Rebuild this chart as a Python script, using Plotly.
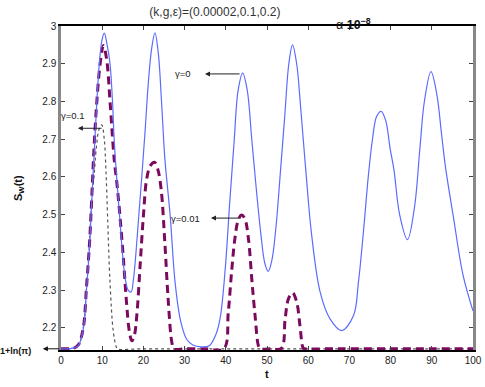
import plotly.graph_objects as go

FLOOR = 2.1447  # 1 + ln(pi)

# gamma = 0 (solid blue)
t_g0 = [0, 2, 3, 4.2, 5.4, 6.2, 6.9, 7.4, 8.1, 8.7, 9.3, 9.9, 10.5, 11.2, 11.9, 12.5, 12.9,
        13.5, 14.2, 14.9, 15.6, 16.3, 17, 17.6, 18.2, 18.9, 19.6, 20.4, 21.2, 22, 22.8, 23.6,
        24.4, 25.2, 26.5, 27.7, 29, 30.5, 32, 34, 36, 37.5, 38.6, 39.8, 41, 42, 43, 44.1, 45.2,
        46.3, 47.3, 48.5, 49.5, 50.3, 51.2, 52.2, 53.3, 54.3, 55.3, 56.2, 57.2, 58.2, 59.4,
        60.8, 62.9, 65.3, 68.1, 71, 72.2, 73.4, 74.6, 75.6, 76.6, 77.7, 78.8, 79.9, 80.8, 82.2,
        84.1, 85.8, 87.1, 88.2, 89.8, 91.2, 92.4, 93.4, 95.2, 97.6, 100]
s_g0 = [2.1447, 2.1447, 2.147, 2.153, 2.197, 2.303, 2.41, 2.524, 2.674, 2.80, 2.90, 2.96, 2.981,
        2.95, 2.90, 2.80, 2.70, 2.60, 2.50, 2.40, 2.33, 2.30, 2.295, 2.33, 2.40, 2.50, 2.60,
        2.72, 2.85, 2.94, 2.982, 2.93, 2.80, 2.65, 2.497, 2.32, 2.22, 2.17, 2.155, 2.150, 2.153,
        2.18, 2.224, 2.348, 2.54, 2.69, 2.83, 2.875, 2.83, 2.70, 2.58, 2.45, 2.37, 2.35, 2.38,
        2.47, 2.62, 2.76, 2.90, 2.950, 2.90, 2.78, 2.62, 2.45, 2.295, 2.224, 2.193, 2.233, 2.322,
        2.454, 2.603, 2.70, 2.76, 2.774, 2.75, 2.674, 2.62, 2.50, 2.434, 2.52, 2.674, 2.80,
        2.879, 2.82, 2.71, 2.62, 2.497, 2.339, 2.245]

# gamma = 0.01 (dashed purple)
t_g001 = [0, 2, 3, 4.2, 5.4, 6.2, 6.9, 7.4, 8.0, 8.7, 9.5, 10.3, 11.1, 11.9, 12.9, 13.6, 14.3,
          15.1, 15.9, 16.6, 17.2, 17.8, 18.4, 19.2, 20, 20.8, 21.7, 22.7, 23.5, 24.3, 25.2, 26,
          26.9, 27.4, 30, 35, 39.5, 40.6, 41.4, 42.2, 43, 43.8, 44.6, 45.5, 46.3, 47.1, 47.9,
          48.3, 51, 53.5, 54.4, 55.2, 56.2, 57.2, 58, 58.8, 59.2, 65, 70, 80, 90, 100]
s_g001 = [2.1447, 2.1447, 2.146, 2.155, 2.20, 2.31, 2.42, 2.53, 2.674, 2.80, 2.90, 2.948, 2.91,
          2.80, 2.648, 2.58, 2.497, 2.39, 2.268, 2.19, 2.166, 2.18, 2.233, 2.365, 2.497, 2.595,
          2.63, 2.639, 2.62, 2.568, 2.427, 2.277, 2.162, 2.1447, 2.1447, 2.1447, 2.1447, 2.241,
          2.348, 2.436, 2.485, 2.499, 2.49, 2.436, 2.33, 2.233, 2.153, 2.1447, 2.1447, 2.146,
          2.224, 2.277, 2.293, 2.269, 2.206, 2.146, 2.1447, 2.1447, 2.1447, 2.1447, 2.1447, 2.1447]

# gamma = 0.1 (dotted)
t_g01 = [0, 2, 3, 4.2, 5.4, 6.2, 6.9, 7.4, 8.0, 8.6, 9.2, 9.9, 10.5, 10.9, 11.3, 11.9, 12.7,
         13.4, 13.7, 20, 40, 60, 80, 100]
s_g01 = [2.1447, 2.1447, 2.146, 2.155, 2.20, 2.31, 2.42, 2.53, 2.60, 2.68, 2.725, 2.738, 2.70,
         2.62, 2.497, 2.32, 2.19, 2.15, 2.1447, 2.1447, 2.1447, 2.1447, 2.1447, 2.1447]

y_ticks = [2.2, 2.3, 2.4, 2.5, 2.6, 2.7, 2.8, 2.9, 3.0]
y_labels = ["2.2", "2.3", "2.4", "2.5", "2.6", "2.7", "2.8", "2.9", "3"]
x_ticks = list(range(0, 101, 10))

font = "Liberation Sans, Arial, sans-serif"

fig = go.Figure()
fig.add_trace(go.Scatter(x=t_g01, y=s_g01, mode="lines", line_shape="spline",
                         line=dict(color="#555555", width=1.2, dash="dot")))
fig.add_trace(go.Scatter(x=t_g001, y=s_g001, mode="lines", line_shape="spline",
                         line=dict(color="#7b0a5c", width=3, dash="8px,5px")))
fig.add_trace(go.Scatter(x=t_g0, y=s_g0, mode="lines", line_shape="spline",
                         line=dict(color="#5c6bff", width=1.2)))

ann = []
# curve labels with arrows (head near the text)
for txt, tx, ty, hx, tail in [("γ=0", 29.6, 2.873, 34.95, 43.7),
                              ("γ=0.01", 30.1, 2.491, 36.4, 43.9)]:
    ann.append(dict(x=tx, y=ty, text=txt, showarrow=False, xanchor="center",
                    font=dict(size=9.5, color="#222")))
    ann.append(dict(x=hx, y=ty, ax=tail, ay=ty, axref="x", ayref="y", text="",
                    showarrow=True, arrowhead=2, arrowsize=1, arrowwidth=1, arrowcolor="#222"))
ann.append(dict(x=2.9, y=2.762, text="γ=0.1", showarrow=False, xanchor="center",
                font=dict(size=9.5, color="#222")))
ann.append(dict(x=4.1, y=2.729, ax=10.2, ay=2.729, axref="x", ayref="y", text="",
                showarrow=True, arrowhead=2, arrowsize=1, arrowwidth=1, arrowcolor="#222"))
# 1+ln(pi) marker on the y axis
ann.append(dict(x=-0.044, xref="paper", y=FLOOR, ax=18, ay=0, axref="pixel", ayref="pixel",
                text="", showarrow=True, arrowhead=2, arrowsize=1, arrowwidth=1,
                arrowcolor="#111"))
ann.append(dict(x=-0.069, xref="paper", y=FLOOR, xanchor="right", yshift=-2,
                text="<b>1+ln(π)</b>", showarrow=False, font=dict(size=9, color="#111")))
# scale note next to the title
ann.append(dict(x=0.711, y=1.037, xref="paper", yref="paper", showarrow=False,
                xanchor="center", text="α <b>10<sup>−8</sup></b>",
                font=dict(size=12.5, color="#111")))
ann.append(dict(x=-0.102, y=0.5, xref="paper", yref="paper", showarrow=False, textangle=-90,
                xanchor="center", text="<b>S<sub>W</sub>(t)</b>",
                font=dict(size=11, color="#111")))
ann.append(dict(x=0.5, y=-0.099, xref="paper", yref="paper", showarrow=False,
                xanchor="center", text="<b>t</b>", font=dict(size=11, color="#111")))

fig.update_layout(
    width=485, height=387,
    margin=dict(l=61, r=12, t=26, b=37),
    paper_bgcolor="white", plot_bgcolor="white",
    showlegend=False,
    font=dict(family=font, size=10, color="#222"),
    title=dict(text="(k,g,ε)=(0.00002,0.1,0.2)", xref="container", x=0.443,
               xanchor="center", yref="container", y=0.969, yanchor="middle",
               font=dict(size=12, color="#333")),
    annotations=ann,
)
fig.update_xaxes(range=[0, 100], tickvals=x_ticks, ticks="inside", ticklen=4,
                 showline=True, linecolor="black", linewidth=1.5, mirror="ticks",
                 showgrid=False, zeroline=False, tickcolor="#444", automargin=False)
fig.update_yaxes(range=[2.1415, 3.0], tickvals=y_ticks, ticktext=y_labels, ticks="inside",
                 ticklen=4, showline=True, linecolor="#888888", linewidth=2.5, mirror="ticks",
                 showgrid=False, zeroline=False, tickcolor="#444", automargin=False)

fig.write_html("out.html", config={"displayModeBar": False},
               post_script="document.body.style.margin='0px';")
